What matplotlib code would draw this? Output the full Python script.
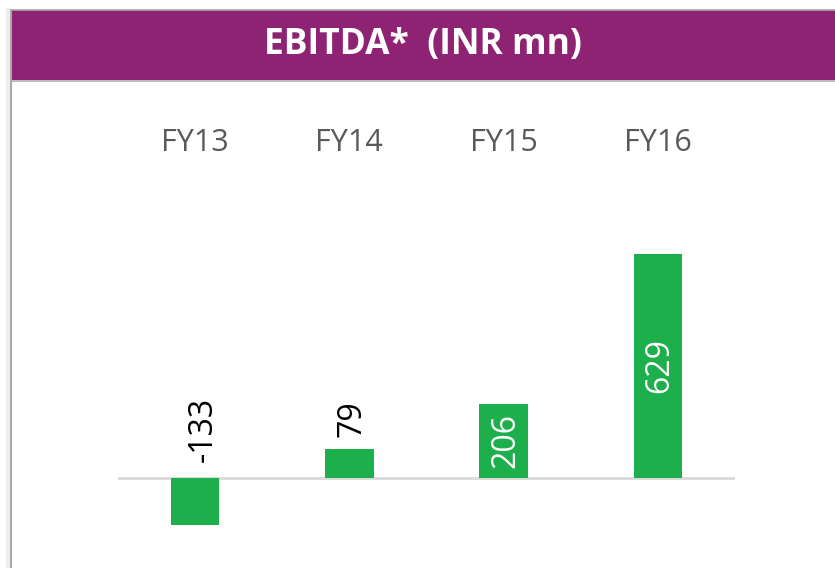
import matplotlib.pyplot as plt
from matplotlib.patches import Rectangle
from matplotlib.lines import Line2D
import matplotlib.transforms as mtransforms

plt.rcParams['font.family'] = ['Open Sans', 'DejaVu Sans']

# 数据
years = ['FY13', 'FY14', 'FY15', 'FY16']
ebitda = [-133, 79, 206, 629]

title = 'EBITDA*  (INR mn)'
bar_color = '#1CAF4B'
header_color = '#8F2373'

W, H = 835, 568
fig = plt.figure(figsize=(W / 100, H / 100), dpi=100)
fig.patch.set_facecolor('white')

# 顶部紫色标题栏
fig.add_artist(Rectangle((10 / W, 1 - 80 / H), 1 - 10 / W, 70 / H,
                         transform=fig.transFigure, facecolor=header_color,
                         edgecolor='none', zorder=1))
fig.add_artist(Line2D([10 / W, 1], [1 - 10 / H, 1 - 10 / H], transform=fig.transFigure,
                      color='#A6A6A6', lw=1.2))
fig.add_artist(Line2D([10 / W, 1], [1 - 80.5 / H, 1 - 80.5 / H], transform=fig.transFigure,
                      color='#B0B0B0', lw=1.2))
fig.add_artist(Line2D([10.5 / W, 10.5 / W], [0, 1 - 10 / H], transform=fig.transFigure,
                      color='#A6A6A6', lw=1.5))
fig.add_artist(Line2D([8 / W, 8 / W], [0, 1 - 10 / H], transform=fig.transFigure,
                      color='#EDEDED', lw=3))
fig.text((10 + W) / 2 / W, 1 - 45 / H, title, color='white', fontsize=25.5,
         fontweight='bold', ha='center', va='center')

# 柱状图区域
k = 2.81  # 每像素对应的数值
ax_left, ax_right = 118, 735
ax_top, ax_bottom = 200, 540
base = 477.5
ax = fig.add_axes([ax_left / W, 1 - ax_bottom / H, (ax_right - ax_left) / W,
                   (ax_bottom - ax_top) / H])
ax.set_xlim(-0.5, 3.5)
ax.set_ylim(-(ax_bottom - base) * k, (base - ax_top) * k)
ax.axis('off')

x = list(range(len(years)))
ax.bar(x, ebitda, width=0.314, color=bar_color, zorder=2)
ax.axhline(0, color='#D9D9D9', lw=2, zorder=1)

# 年份标签
trans = mtransforms.blended_transform_factory(ax.transData, fig.transFigure)
for xi, yr in zip(x, years):
    ax.text(xi, 1 - 151 / H, yr, transform=trans, ha='center', va='baseline',
            fontsize=22, color='#595959')

# 数值标签
for xi, v in zip(x, ebitda):
    if v < 0:
        ax.text(xi + 0.05, 15 * k, f'{v}', rotation=90, ha='center', va='bottom',
                fontsize=23, color='black')
    elif v < 150:
        ax.text(xi + 0.015, v + 12 * k, f'{v}', rotation=90, ha='center', va='bottom',
                fontsize=23, color='black')
    else:
        ax.text(xi + 0.015, v / 2, f'{v}', rotation=90, ha='center', va='center',
                fontsize=23, color='white')

fig.savefig('out.png', dpi=100)
